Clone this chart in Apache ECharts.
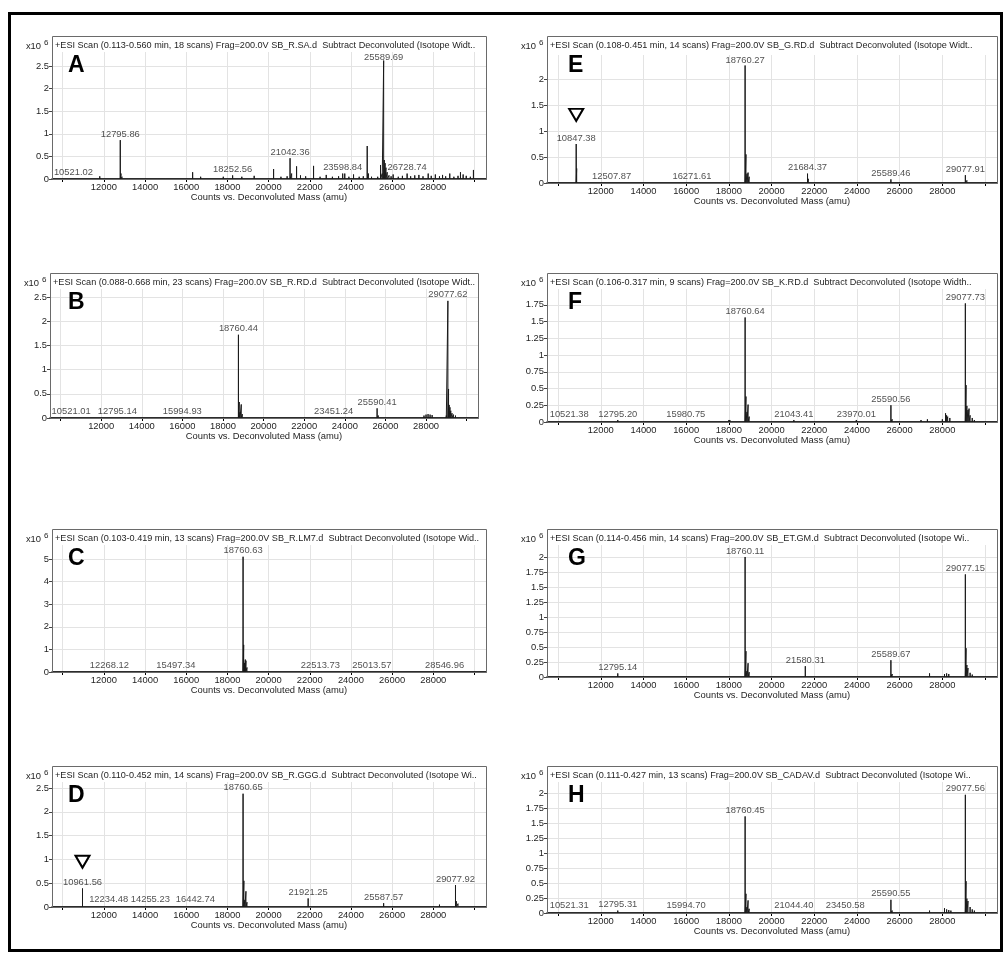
<!DOCTYPE html>
<html><head><meta charset="utf-8">
<script src="https://cdn.jsdelivr.net/npm/echarts@6/dist/echarts.min.js"></script>
<style>html,body{margin:0;padding:0;background:#fff;}#c{width:1006px;height:960px;}</style>
</head><body><div id="c"></div>
<script>
// ---------------- DATA (intensities in units of 10^6 counts) ----------------
const xTickLabels = [12000, 14000, 16000, 18000, 20000, 22000, 24000, 26000, 28000];
const xAxisName = 'Counts vs. Deconvoluted Mass (amu)';

const titleA = '+ESI Scan (0.113-0.560 min, 18 scans) Frag=200.0V SB_R.SA.d  Subtract Deconvoluted (Isotope Widt..';
const titleB = '+ESI Scan (0.088-0.668 min, 23 scans) Frag=200.0V SB_R.RD.d  Subtract Deconvoluted (Isotope Widt..';
const titleC = '+ESI Scan (0.103-0.419 min, 13 scans) Frag=200.0V SB_R.LM7.d  Subtract Deconvoluted (Isotope Wid..';
const titleD = '+ESI Scan (0.110-0.452 min, 14 scans) Frag=200.0V SB_R.GGG.d  Subtract Deconvoluted (Isotope Wi..';
const titleE = '+ESI Scan (0.108-0.451 min, 14 scans) Frag=200.0V SB_G.RD.d  Subtract Deconvoluted (Isotope Widt..';
const titleF = '+ESI Scan (0.106-0.317 min, 9 scans) Frag=200.0V SB_K.RD.d  Subtract Deconvoluted (Isotope Width..';
const titleG = '+ESI Scan (0.114-0.456 min, 14 scans) Frag=200.0V SB_ET.GM.d  Subtract Deconvoluted (Isotope Wi..';
const titleH = '+ESI Scan (0.111-0.427 min, 13 scans) Frag=200.0V SB_CADAV.d  Subtract Deconvoluted (Isotope Wi..';

// labelled peaks [mass, intensity]
const labeledA = [[10521.02,0.02],[12795.86,0.86],[18252.56,0.08],[21042.36,0.46],[23598.84,0.12],[25589.69,2.62],[26728.74,0.12]];
const labeledB = [[10521.01,0.02],[12795.14,0.02],[15994.93,0.02],[18760.44,1.72],[23451.24,0.02],[25590.41,0.2],[29077.62,2.42]];
const labeledC = [[12268.12,0.03],[15497.34,0.03],[18760.63,5.1],[22513.73,0.03],[25013.57,0.03],[28546.96,0.03]];
const labeledD = [[10961.56,0.39],[12234.48,0.04],[14255.23,0.04],[16442.74,0.04],[18760.65,2.38],[21921.25,0.18],[25587.57,0.08],[29077.92,0.46]];
const labeledE = [[10847.38,0.75],[12507.87,0.02],[16271.61,0.02],[18760.27,2.26],[21684.37,0.18],[25589.46,0.07],[29077.91,0.15]];
const labeledF = [[10521.38,0.02],[12795.20,0.03],[15980.75,0.02],[18760.64,1.56],[21043.41,0.03],[23970.01,0.03],[25590.56,0.25],[29077.73,1.77]];
const labeledG = [[12795.14,0.06],[18760.11,2.0],[21580.31,0.18],[25589.67,0.28],[29077.15,1.71]];
const labeledH = [[10521.31,0.02],[12795.31,0.04],[15994.70,0.02],[18760.45,1.61],[21044.40,0.03],[23450.58,0.03],[25590.55,0.22],[29077.56,1.97]];

// unlabelled peaks [mass, intensity]
const peaksA = [[11800,0.06],[12830,0.12],[12880,0.05],[13200,0.02],[14000,0.03],[14600,0.02],[15000,0.02],[15300,0.03],[15700,0.03],[16311,0.15],[16700,0.05],[16950,0.04],[17300,0.03],[17800,0.05],[18300,0.04],[18700,0.05],[19000,0.04],[19300,0.07],[19500,0.03],[19800,0.04],[20243,0.22],[20600,0.05],[20900,0.06],[21120,0.12],[21359,0.28],[21550,0.08],[21800,0.06],[22184,0.29],[22500,0.05],[22800,0.09],[23100,0.05],[23400,0.06],[23700,0.12],[23900,0.05],[24126,0.1],[24400,0.05],[24600,0.06],[24790,0.73],[24850,0.12],[25000,0.05],[25300,0.05],[25437,0.31],[25520,0.12],[25620,0.42],[25660,0.35],[25700,0.25],[25760,0.15],[25850,0.08],[25950,0.06],[26050,0.1],[26300,0.05],[26500,0.07],[26900,0.06],[27100,0.08],[27300,0.09],[27500,0.06],[27752,0.12],[27900,0.07],[28100,0.1],[28300,0.06],[28450,0.09],[28600,0.06],[28800,0.12],[29000,0.05],[29200,0.07],[29320,0.15],[29450,0.1],[29600,0.07],[29800,0.05],[29950,0.2]];
const peaksB = [[18000,0.02],[18090,0.02],[18800,0.33],[18840,0.12],[18900,0.28],[18950,0.08],[19000,0.03],[19800,0.01],[21000,0.01],[22500,0.01],[24200,0.02],[24500,0.03],[24800,0.03],[25000,0.03],[25300,0.03],[25650,0.05],[26000,0.02],[26300,0.03],[26600,0.03],[27000,0.03],[27300,0.04],[27500,0.03],[27700,0.04],[27900,0.05],[28000,0.07],[28100,0.08],[28200,0.07],[28300,0.06],[28400,0.04],[28600,0.03],[28800,0.03],[29000,0.05],[29110,0.6],[29140,0.27],[29180,0.22],[29220,0.15],[29280,0.1],[29350,0.07],[29450,0.05],[29600,0.03],[29800,0.02]];
const peaksC = [[18000,0.05],[18050,0.06],[18100,0.03],[18790,1.2],[18830,0.4],[18870,0.55],[18900,0.5],[18950,0.2],[19000,0.06],[19100,0.03],[27300,0.04],[27400,0.03],[28700,0.03],[29000,0.04],[29200,0.05],[29400,0.04],[29700,0.03]];
const peaksD = [[18000,0.03],[18050,0.03],[18800,0.55],[18850,0.15],[18900,0.33],[18950,0.1],[19700,0.02],[20500,0.02],[21000,0.02],[23000,0.02],[24000,0.02],[24500,0.02],[25000,0.03],[25200,0.02],[26000,0.02],[27100,0.03],[27300,0.04],[27400,0.04],[28100,0.03],[28300,0.05],[28500,0.03],[29120,0.12],[29200,0.07],[29350,0.04],[29600,0.03],[29800,0.02]];
const peaksE = [[10870,0.28],[18000,0.02],[18050,0.03],[18800,0.55],[18850,0.18],[18900,0.2],[18950,0.12],[19000,0.03],[19700,0.02],[21720,0.08],[21800,0.03],[22600,0.02],[23000,0.02],[23400,0.02],[23700,0.02],[24000,0.02],[24400,0.02],[24800,0.02],[25100,0.03],[25650,0.03],[26000,0.02],[26500,0.02],[27000,0.02],[27400,0.03],[27800,0.02],[28200,0.03],[28600,0.03],[29150,0.05],[29300,0.03],[29600,0.02]];
const peaksF = [[18000,0.03],[18050,0.03],[18800,0.38],[18850,0.15],[18900,0.26],[18950,0.08],[19000,0.02],[19700,0.02],[20500,0.02],[21500,0.02],[22000,0.02],[23000,0.02],[24500,0.02],[25000,0.02],[25650,0.04],[26000,0.02],[26500,0.02],[27000,0.03],[27300,0.04],[27500,0.02],[28000,0.04],[28150,0.13],[28200,0.1],[28250,0.08],[28350,0.06],[29110,0.55],[29150,0.24],[29200,0.18],[29250,0.2],[29300,0.1],[29400,0.06],[29500,0.03],[29700,0.02]];
const peaksG = [[18000,0.02],[18050,0.02],[18800,0.43],[18850,0.1],[18900,0.23],[18950,0.08],[19700,0.02],[20700,0.02],[21000,0.02],[22500,0.02],[23000,0.02],[23500,0.02],[24000,0.02],[24500,0.02],[25000,0.03],[25650,0.05],[26000,0.02],[26500,0.02],[27000,0.03],[27400,0.06],[27600,0.03],[28100,0.05],[28200,0.06],[28300,0.05],[28500,0.03],[29110,0.48],[29150,0.2],[29200,0.15],[29300,0.07],[29400,0.04],[29600,0.02]];
const peaksH = [[18000,0.03],[18050,0.03],[18800,0.32],[18850,0.1],[18900,0.21],[18950,0.07],[19700,0.02],[20500,0.02],[21500,0.02],[22500,0.02],[23000,0.02],[24000,0.02],[24500,0.02],[25000,0.02],[25650,0.04],[26000,0.02],[26500,0.02],[27000,0.02],[27400,0.04],[27600,0.03],[28100,0.08],[28200,0.06],[28300,0.05],[28400,0.04],[29110,0.53],[29150,0.24],[29200,0.2],[29300,0.1],[29400,0.06],[29500,0.04],[29700,0.02]];

// open-triangle annotations [mass, intensity]
const markerD = [10961.56, 0.95];
const markerE = [10847.38, 1.31];

// ---------------- LAYOUT ----------------
const FONT = '"Liberation Sans", Arial, sans-serif';
const FS = 9.4, FS_TITLE = 9.1;
const X_MIN = 9480, X_MAX = 30560;
const panels = [
  {id:'A', title:titleA, labeled:labeledA, peaks:peaksA, yInt:0.5, marker:null,    L:52,  R:486, T:36,  B:179, ppu:45.2, band:16},
  {id:'B', title:titleB, labeled:labeledB, peaks:peaksB, yInt:0.5, marker:null,    L:50,  R:478, T:273, B:418, ppu:48.4, band:16},
  {id:'C', title:titleC, labeled:labeledC, peaks:peaksC, yInt:1,   marker:null,    L:52,  R:486, T:529, B:672, ppu:22.6, band:16},
  {id:'D', title:titleD, labeled:labeledD, peaks:peaksD, yInt:0.5, marker:markerD, L:52,  R:486, T:766, B:907, ppu:47.6, band:16},
  {id:'E', title:titleE, labeled:labeledE, peaks:peaksE, yInt:0.5, marker:markerE, L:547, R:997, T:36,  B:183, ppu:52,   band:19},
  {id:'F', title:titleF, labeled:labeledF, peaks:peaksF, yInt:0.25,marker:null,    L:547, R:997, T:273, B:422, ppu:67,   band:16},
  {id:'G', title:titleG, labeled:labeledG, peaks:peaksG, yInt:0.25,marker:null,    L:547, R:997, T:529, B:677, ppu:60,   band:16},
  {id:'H', title:titleH, labeled:labeledH, peaks:peaksH, yInt:0.25,marker:null,    L:547, R:997, T:766, B:913, ppu:60,   band:16}
];

const grids = [], xAxes = [], yAxes = [], series = [], elements = [];
const textCol = '#1e1e1e', gridCol = '#e3e3e3';

panels.forEach((p, i) => {
  const gTop = p.T + p.band;
  const yMax = (p.B - gTop) / p.ppu;
  grids.push({left: p.L, top: gTop, width: p.R - p.L, height: p.B - gTop});
  xAxes.push({
    gridIndex: i, type: 'value', min: X_MIN, max: X_MAX, splitNumber: 10,
    axisLine: {onZero: false, lineStyle: {color: '#000', width: 1.5}},
    axisTick: {length: 3, lineStyle: {color: '#000'}},
    axisLabel: {margin: 4, fontSize: FS, color: textCol, fontFamily: FONT,
      showMinLabel: false, showMaxLabel: false,
      formatter: v => xTickLabels.indexOf(Math.round(v)) >= 0 ? String(Math.round(v)) : ''},
    splitLine: {show: true, showMinLine: false, showMaxLine: false, lineStyle: {color: gridCol, width: 1}},
    name: xAxisName, nameLocation: 'middle', nameGap: 14,
    nameTextStyle: {fontSize: FS, color: textCol, fontFamily: FONT}
  });
  yAxes.push({
    gridIndex: i, type: 'value', min: 0, max: yMax, interval: p.yInt,
    axisLine: {show: false},
    axisTick: {show: true, length: 3, lineStyle: {color: '#444'}},
    axisLabel: {margin: 3, fontSize: FS, color: textCol, fontFamily: FONT, showMaxLabel: false},
    splitLine: {show: true, showMaxLine: false, showMinLine: false, lineStyle: {color: gridCol, width: 1}}
  });
  const all = p.labeled.concat(p.peaks).sort((a, b) => a[0] - b[0]);
  const stick = [[X_MIN, 0]];
  all.forEach(([m, h]) => { stick.push([m, 0], [m, h], [m, 0]); });
  stick.push([X_MAX, 0]);
  const lineSeries = {
    type: 'line', xAxisIndex: i, yAxisIndex: i, data: stick, showSymbol: false, symbol: 'none',
    lineStyle: {color: '#1a1a1a', width: 1}, silent: true, animation: false, z: 3
  };
  if (p.marker) {
    lineSeries.markPoint = {
      symbol: 'triangle', symbolRotate: 180, symbolSize: [14, 12], silent: true, animation: false,
      itemStyle: {color: '#fff', borderColor: '#000', borderWidth: 2},
      label: {show: false},
      data: [{coord: p.marker}]
    };
  }
  series.push(lineSeries);
  series.push({
    type: 'scatter', xAxisIndex: i, yAxisIndex: i, data: p.labeled, symbolSize: 1,
    itemStyle: {color: 'rgba(0,0,0,0)'}, silent: true, animation: false, z: 4,
    label: {show: true, position: 'top', distance: 1, fontSize: FS, color: textCol, fontFamily: FONT,
      formatter: q => q.value[0].toFixed(2)},
    labelLayout: params => {
      const r = params.labelRect;
      if (r.y < gTop + 1) {
        return {x: r.x + r.width / 2, y: gTop + 1, align: 'center', verticalAlign: 'top'};
      }
      return {};
    }
  });
  // frame, title, exponent, panel letter
  elements.push({type: 'rect', z: 50, silent: true,
    shape: {x: p.L + 0.5, y: p.T + 0.5, width: p.R - p.L, height: p.B - p.T},
    style: {fill: 'none', stroke: '#6a6a6a', lineWidth: 1}});
  elements.push({type: 'text', z: 50, silent: true, x: p.L + 3, y: p.T + 9,
    style: {text: p.title, font: FS_TITLE + 'px ' + FONT, fill: textCol, verticalAlign: 'middle', align: 'left'}});
  elements.push({type: 'text', z: 50, silent: true, x: p.L - 11, y: p.T + 10,
    style: {text: 'x10', font: FS + 'px ' + FONT, fill: textCol, verticalAlign: 'middle', align: 'right'}});
  elements.push({type: 'text', z: 50, silent: true, x: p.L - 8, y: p.T + 7,
    style: {text: '6', font: '8px ' + FONT, fill: textCol, verticalAlign: 'middle', align: 'left'}});
  elements.push({type: 'text', z: 50, silent: true, x: (p.L < 300 ? 68 : 568), y: p.T + 30,
    style: {text: p.id, font: 'bold 23px ' + FONT, fill: '#000', verticalAlign: 'middle', align: 'left'}});
});

// outer figure frame
elements.push({type: 'rect', z: 60, silent: true,
  shape: {x: 9.5, y: 13.5, width: 992, height: 937},
  style: {fill: 'none', stroke: '#000', lineWidth: 3}});

const chart = echarts.init(document.getElementById('c'), null, {renderer: 'canvas'});
chart.setOption({
  animation: false,
  backgroundColor: '#fff',
  grid: grids, xAxis: xAxes, yAxis: yAxes, series: series,
  graphic: {elements: elements}
});
</script>
</body></html>
